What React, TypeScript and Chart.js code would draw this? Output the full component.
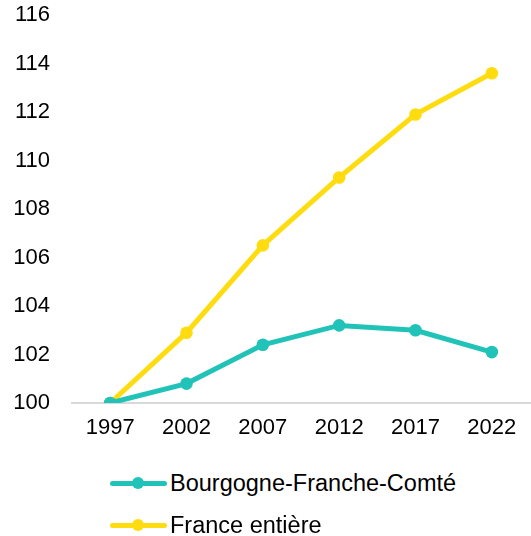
import React, { useEffect, useRef } from "react";
import { Chart, registerables } from "chart.js";

Chart.register(...registerables);

const years = ["1997", "2002", "2007", "2012", "2017", "2022"];
const bfcValues = [100, 100.8, 102.4, 103.2, 103.0, 102.1];
const franceValues = [100, 102.9, 106.5, 109.3, 111.9, 113.6];
const seriesNames = ["Bourgogne-Franche-Comté", "France entière"];
const yMin = 100;
const yMax = 116;
const yStep = 2;

const TEAL = "#21C3B9";
const YELLOW = "#FFDC10";
const FONT = '"Liberation Sans", Arial, sans-serif';

export default function App() {
  const ref = useRef<HTMLCanvasElement | null>(null);

  useEffect(() => {
    if (!ref.current) return;
    const chart = new Chart(ref.current, {
      type: "line",
      data: {
        labels: years,
        datasets: [
          {
            label: seriesNames[0],
            data: bfcValues,
            borderColor: TEAL,
            backgroundColor: TEAL,
            borderWidth: 5,
            pointRadius: 6.3,
            pointBorderWidth: 0,
            pointBackgroundColor: TEAL,
            tension: 0,
          },
          {
            label: seriesNames[1],
            data: franceValues,
            borderColor: YELLOW,
            backgroundColor: YELLOW,
            borderWidth: 5,
            pointRadius: 6.3,
            pointBorderWidth: 0,
            pointBackgroundColor: YELLOW,
            tension: 0,
          },
        ],
      },
      options: {
        responsive: false,
        animation: false,
        layout: {
          autoPadding: false,
          padding: { left: 13, right: 1, top: 0, bottom: 0 },
        },
        plugins: { legend: { display: false }, tooltip: { enabled: false } },
        scales: {
          x: {
            offset: true,
            grid: { display: false, drawTicks: false },
            border: { display: true, color: "#D9D9D9", width: 2 },
            ticks: {
              color: "#000000",
              font: { family: FONT, size: 22 },
              padding: 12,
              maxRotation: 0,
            },
            afterFit: (s: any) => {
              s.height = 37;
              s.paddingLeft = 0;
              s.paddingRight = 0;
            },
          },
          y: {
            min: yMin,
            max: yMax,
            grid: { display: false, drawTicks: false },
            border: { display: false },
            ticks: {
              stepSize: yStep,
              color: "#000000",
              font: { family: FONT, size: 22 },
              padding: 22,
            },
            afterFit: (s: any) => {
              s.width = 59;
              s.paddingTop = 15;
              s.paddingBottom = 0;
            },
          },
        },
      },
    });
    return () => chart.destroy();
  }, []);

  const legendItem = (color: string, text: string, top: number) => (
    <div
      style={{
        position: "absolute",
        left: 110,
        top: top - 15,
        height: 30,
        display: "flex",
        alignItems: "center",
      }}
    >
      <div style={{ position: "relative", width: 57, height: 12 }}>
        <div
          style={{
            position: "absolute",
            left: 0,
            top: 3.5,
            width: 57,
            height: 5,
            borderRadius: 2.5,
            background: color,
          }}
        />
        <div
          style={{
            position: "absolute",
            left: 22,
            top: 0,
            width: 12,
            height: 12,
            borderRadius: 6,
            background: color,
          }}
        />
      </div>
      <span
        style={{
          marginLeft: 3,
          fontFamily: FONT,
          fontSize: 23.5,
          color: "#000",
          whiteSpace: "nowrap",
        }}
      >
        {text}
      </span>
    </div>
  );

  return (
    <div
      style={{
        position: "fixed",
        left: 0,
        top: 0,
        width: 531,
        height: 536,
        background: "#fff",
      }}
    >
      <canvas ref={ref} width={531} height={440} style={{ display: "block" }} />
      {legendItem(TEAL, seriesNames[0], 483)}
      {legendItem(YELLOW, seriesNames[1], 525)}
    </div>
  );
}
